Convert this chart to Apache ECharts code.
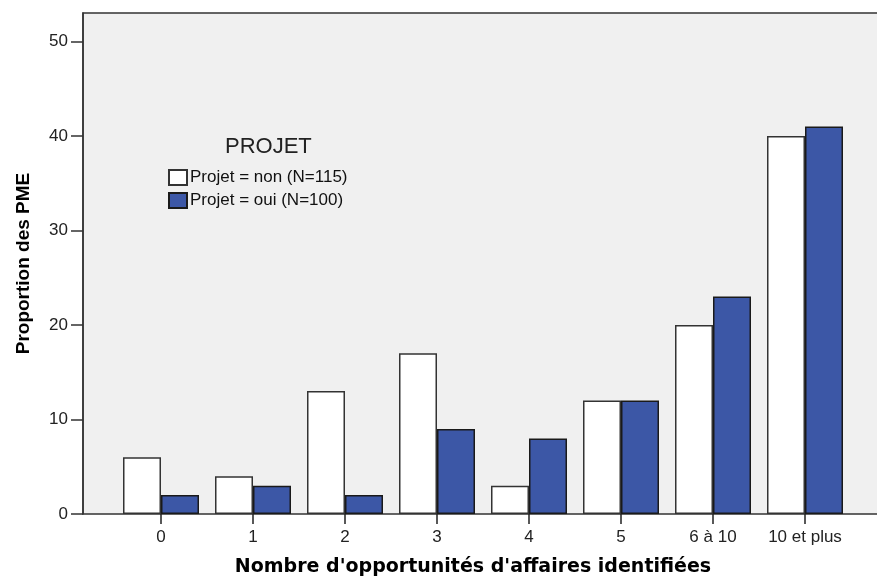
<!DOCTYPE html>
<html>
<head>
<meta charset="utf-8">
<script src="https://cdn.jsdelivr.net/npm/echarts@6/dist/echarts.min.js"></script>
<style>
html,body{margin:0;padding:0;background:#fff;}
#chart{width:877px;height:579px;}
</style>
</head>
<body>
<div id="chart"></div>
<script>
const categories = ['0', '1', '2', '3', '4', '5', '6 à 10', '10 et plus'];
const projetNon = [6, 4, 13, 17, 3, 12, 20, 40];
const projetOui = [2, 3, 2, 9, 8, 12, 23, 41];
const yTicks = [0, 10, 20, 30, 40, 50];
const seriesNames = ['Projet = non (N=115)', 'Projet = oui (N=100)'];
const legendTitle = 'PROJET';
const xTitle = "Nombre d'opportunités d'affaires identifiées";
const yTitle = 'Proportion des PME';

const FONT = '"Liberation Sans", Arial, sans-serif';
const chart = echarts.init(document.getElementById('chart'));
chart.setOption({
  animation: false,
  backgroundColor: '#ffffff',
  title: {
    text: legendTitle, left: 225, top: 136, padding: 0,
    textStyle: { fontFamily: FONT, fontSize: 22, fontWeight: 'normal', color: '#222' }
  },
  legend: {
    orient: 'vertical', left: 168, top: 169, padding: 0,
    itemWidth: 18, itemHeight: 15, itemGap: 6,
    icon: 'rect',
    textStyle: { fontFamily: FONT, fontSize: 17, color: '#111', padding: [0, 0, 0, -2] },
    data: seriesNames
  },
  grid: [
    { left: 83, right: -2, top: 13, bottom: 65, show: true, backgroundColor: '#f0f0f0', borderColor: '#333', borderWidth: 1.5, containLabel: false, outerBoundsMode: 'none' },
    { left: 115, right: 26, top: 13, bottom: 65, containLabel: false, outerBoundsMode: 'none' }
  ],
  xAxis: [
    { type: 'category', gridIndex: 0, data: categories, show: false },
    {
      type: 'category', gridIndex: 1, data: categories,
      axisLine: { show: false },
      axisTick: { show: true, alignWithLabel: true, length: 10, lineStyle: { color: '#222', width: 1.5 } },
      axisLabel: { interval: 0, hideOverlap: false, fontFamily: FONT, fontSize: 17, color: '#222', margin: 15 },
      name: xTitle, nameLocation: 'middle', nameGap: 44,
      nameTextStyle: { fontFamily: '"DejaVu Sans", sans-serif', fontSize: 19, fontWeight: 'bold', color: '#000', padding: [0, 20, 0, 0] }
    }
  ],
  yAxis: [
    {
      type: 'value', gridIndex: 0, min: 0, max: 53, interval: 10,
      splitLine: { show: false },
      axisLine: { show: true, lineStyle: { color: '#333', width: 1.5 } },
      axisTick: { show: true, length: 12, customValues: yTicks, lineStyle: { color: '#333', width: 1.5 } },
      axisLabel: { fontFamily: FONT, fontSize: 17, color: '#222', margin: 15, customValues: yTicks },
      name: yTitle, nameLocation: 'middle', nameGap: 50, nameRotate: 90,
      nameTextStyle: { fontFamily: FONT, fontSize: 19, fontWeight: 'bold', color: '#000' }
    },
    { type: 'value', gridIndex: 1, min: 0, max: 53, show: false, splitLine: { show: false } }
  ],
  series: [
    {
      name: seriesNames[0], type: 'bar', xAxisIndex: 1, yAxisIndex: 1,
      data: projetNon, barWidth: 38, barGap: '0%',
      itemStyle: { color: '#ffffff', borderColor: '#333', borderWidth: 1.5 }
    },
    {
      name: seriesNames[1], type: 'bar', xAxisIndex: 1, yAxisIndex: 1,
      data: projetOui, barWidth: 38, barGap: '0%',
      itemStyle: { color: '#3c57a6', borderColor: '#1a1a1a', borderWidth: 1.5 }
    }
  ]
});
</script>
</body>
</html>
